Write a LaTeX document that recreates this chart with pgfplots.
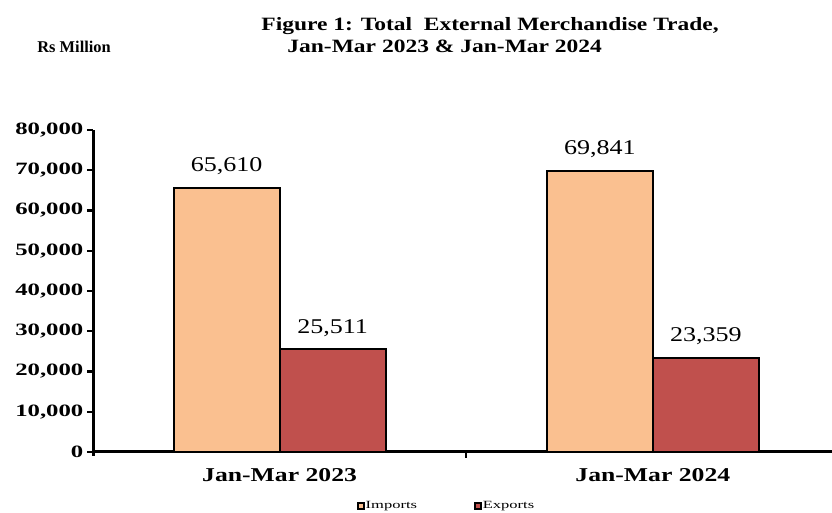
\documentclass[border=0pt]{standalone}
\usepackage{fontspec}
\setmainfont{Liberation Serif}
\newfontfamily\fTitle[FakeStretch=1.25]{Liberation Serif}
\newfontfamily\fTick[FakeStretch=1.43]{Liberation Serif}
\newfontfamily\fCat[FakeStretch=1.31]{Liberation Serif}
\newfontfamily\fVal[FakeStretch=1.24]{Liberation Serif}
\newfontfamily\fLeg[FakeStretch=1.5]{Liberation Serif}
\usepackage{pgfplots}
\pgfplotsset{compat=1.18}
\definecolor{impc}{HTML}{FAC090}
\definecolor{expc}{HTML}{C0504D}
\begin{document}
\begin{tikzpicture}
\path[use as bounding box] (0,0) rectangle (416pt,256.5pt);
\node[anchor=base west,font=\fontsize{8.2}{9}\selectfont\bfseries,inner sep=0] at (18.5pt,230pt) {Rs Million};
\node[anchor=base west,font=\fontsize{9.4}{11}\fTitle\bfseries,inner sep=0] at (130.5pt,241pt) {Figure 1: Total\ \ External Merchandise Trade,};
\node[anchor=base west,font=\fontsize{9.4}{11}\fTitle\bfseries,inner sep=0] at (143.5pt,230pt) {Jan-Mar 2023 \& Jan-Mar 2024};
\begin{axis}[
  at={(46.5pt,30.5pt)}, anchor=south west,
  scale only axis, width=369.5pt, height=161pt,
  xmin=-0.5, xmax=1.48, ymin=0, ymax=80000,
  axis x line=bottom, axis y line=left,
  axis line style={-, line width=1.5pt},
  y axis line style={shorten <=-2pt},
  ybar=0pt, bar width=53pt,
  ytick={0,10000,...,80000},
  yticklabel style={font=\fontsize{8.65}{10}\fTick\bfseries, xshift=1.5pt},
  /pgf/number format/.cd, 1000 sep={,}, assume math mode=true, fixed,
  /pgfplots/.cd,
  scaled y ticks=false,
  tick align=outside, major tick length=2.8pt,
  tick style={line width=1.2pt, black},
  xtick={0.5}, xticklabels={},
  extra x ticks={0,1}, extra x tick labels={Jan-Mar 2023, Jan-Mar 2024},
  extra x tick style={major tick length=0pt,
     xticklabel style={font=\fontsize{9.8}{11}\fCat\bfseries, yshift=-4.5pt}},
  nodes near coords,
  every node near coord/.append style={font=\fontsize{10.5}{12}\fVal, anchor=base, yshift=8pt},
  legend style={at={(0.478,-0.19)}, anchor=south, draw=none, fill=none, inner sep=0pt,
    font=\fontsize{5.5}{6}\fLeg, legend columns=2,
    /tikz/every even column/.append style={column sep=28pt},
    nodes={inner sep=0.6pt}},
  legend image code/.code={\draw[#1,draw=black,line width=0.7pt] (0pt,-1.3pt) rectangle (3pt,1.7pt);},
]
\addplot[fill=impc, draw=black, line width=1pt] coordinates {(0,65610) (1,69841)};
\addplot[fill=expc, draw=black, line width=1pt] coordinates {(0,25511) (1,23359)};
\legend{Imports, Exports}
\end{axis}
\end{tikzpicture}
\end{document}
